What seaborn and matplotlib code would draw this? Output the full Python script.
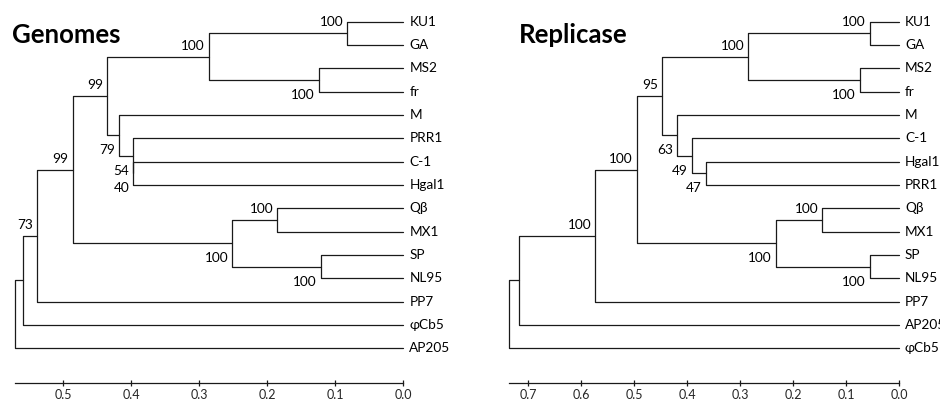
import pandas as pd
import matplotlib
matplotlib.use("Agg")
import matplotlib.pyplot as plt
import seaborn as sns

# ------------------ DATA ------------------
# leaf order top -> bottom; merges listed like a linkage table (left, right, height, bootstrap)
genome_leaves = ["KU1", "GA", "MS2", "fr", "M", "PRR1", "C-1", "Hgal1",
                 "Qβ", "MX1", "SP", "NL95", "PP7", "φCb5", "AP205"]
genome_left = ["KU1", "MS2", "n0", "C-1", "PRR1", "M", "n2", "Qβ", "SP", "n7", "n6", "n10", "n11", "n12"]
genome_right = ["GA", "fr", "n1", "Hgal1", "n3", "n4", "n5", "MX1", "NL95", "n8", "n9", "PP7", "φCb5", "AP205"]
genome_height = [0.082, 0.124, 0.286, 0.3965, 0.3975, 0.4175, 0.4355, 0.185, 0.121, 0.251, 0.486, 0.538, 0.559, 0.571]
genome_support = [100, 100, 100, 40, 54, 79, 99, 100, 100, 100, 99, 73, None, None]
genome_ticks = [0.5, 0.4, 0.3, 0.2, 0.1, 0.0]

replicase_leaves = ["KU1", "GA", "MS2", "fr", "M", "C-1", "Hgal1", "PRR1",
                    "Qβ", "MX1", "SP", "NL95", "PP7", "AP205", "φCb5"]
replicase_left = ["KU1", "MS2", "n0", "Hgal1", "C-1", "M", "n2", "Qβ", "SP", "n7", "n6", "n10", "n11", "n12"]
replicase_right = ["GA", "fr", "n1", "PRR1", "n3", "n4", "n5", "MX1", "NL95", "n8", "n9", "PP7", "AP205", "φCb5"]
replicase_height = [0.0547, 0.0736, 0.284, 0.365, 0.391, 0.4195, 0.4465, 0.1447, 0.0547, 0.2327, 0.495, 0.573, 0.717, 0.735]
replicase_support = [100, 100, 100, 47, 49, 63, 95, 100, 100, 100, 100, 100, None, None]
replicase_ticks = [0.7, 0.6, 0.5, 0.4, 0.3, 0.2, 0.1, 0.0]

# ------------------ STYLE ------------------
sns.set_theme(style="white")
plt.rcParams["font.family"] = ["Lato", "DejaVu Sans"]
LINE_COLOR = "#1a1a1a"


def build_tree(leaves, left, right, height):
    pos = {name: (0.0, float(i)) for i, name in enumerate(leaves)}
    rows, nodes = [], []
    for k, (a, b, h) in enumerate(zip(left, right, height)):
        ha, ya = pos[a]
        hb, yb = pos[b]
        for x, y in [(ha, ya), (h, ya), (h, yb), (hb, yb)]:
            rows.append({"seg": k, "x": x, "y": y})
        pos[f"n{k}"] = (h, (ya + yb) / 2)
        nodes.append((h, (ya + yb) / 2))
    # first child of its parent -> label above, second -> below
    above = {}
    for a, b in zip(left, right):
        above[a] = True
        above[b] = False
    return pd.DataFrame(rows), nodes, above


def draw_panel(ax, leaves, left, right, height, support, ticks, xlim, title, title_x):
    df, nodes, above = build_tree(leaves, left, right, height)
    sns.lineplot(data=df, x="x", y="y", units="seg", estimator=None, sort=False,
                 color=LINE_COLOR, linewidth=0.9, ax=ax)

    for i, name in enumerate(leaves):
        ax.annotate(name, (0, i), xytext=(6, 0), textcoords="offset pixels",
                    ha="left", va="center", fontsize=9.8, color="black")

    for k, (h, y) in enumerate(nodes):
        if support[k] is None:
            continue
        dy = 7 if above.get(f"n{k}", True) else -19
        ax.annotate(str(support[k]), (h, y), xytext=(-4, dy), textcoords="offset pixels",
                    ha="right", va="baseline", fontsize=9.8, color="black")

    ax.set_xlim(*xlim)
    ax.set_ylim(16.258, -0.930)
    ax.set_xlabel("")
    ax.set_ylabel("")
    ax.set_yticks([])
    sns.despine(ax=ax, left=True)
    ax.spines["bottom"].set_position(("data", 15.47))
    ax.spines["bottom"].set_bounds(0, max(height))
    ax.spines["bottom"].set_color(LINE_COLOR)
    ax.spines["bottom"].set_linewidth(0.9)
    ax.set_xticks(ticks)
    ax.set_xticklabels([f"{t:.1f}" for t in ticks])
    ax.tick_params(axis="x", direction="inout", length=5, width=0.9, color=LINE_COLOR,
                   labelsize=9, pad=2, bottom=True)
    ax.set_facecolor("white")
    ax.figure.text(title_x, 358 / 401, title, fontsize=18.5, fontweight="bold",
                   ha="left", va="baseline", color="black")


fig = plt.figure(figsize=(9.4, 4.01), dpi=100)
ax1 = fig.add_axes([0, 0, 0.5, 1])
ax2 = fig.add_axes([0.5, 0, 0.5, 1])
for ax in (ax1, ax2):
    ax.patch.set_alpha(0)

draw_panel(ax1, genome_leaves, genome_left, genome_right, genome_height, genome_support,
           genome_ticks, (0.5926, -0.098), "Genomes", 12 / 940)
draw_panel(ax2, replicase_leaves, replicase_left, replicase_right, replicase_height,
           replicase_support, replicase_ticks, (0.8094, -0.0774), "Replicase", 519 / 940)

fig.savefig("out.png", dpi=100)
